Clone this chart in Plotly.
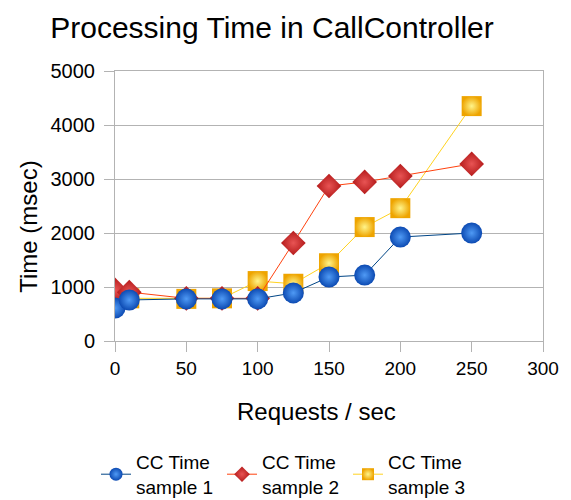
import plotly.graph_objects as go

# Request rates (requests / sec)
requests = [0, 10, 50, 75, 100, 125, 150, 175, 200, 250]

# Processing time in ms for each sample run
sample1 = [610, 760, 780, 780, 780, 890, 1185, 1220, 1925, 2000]
sample2 = [945, 905, 790, 790, 790, 1815, 2870, 2945, 3055, 3280]
sample3 = [790, 790, 780, 790, 1110, 1060, 1440, 2110, 2460, 4350]

series_names = ["CC Time<br>sample 1", "CC Time<br>sample 2", "CC Time<br>sample 3"]

FONT = "Liberation Sans, Arial, sans-serif"
GRID = "#b3b3b3"
W, H = 571, 500

# per-series style: (values, line colour, symbol, size, edge colour, highlight)
styles = [
    (sample1, "#004586", "circle", 21, "#0c4ab2", "#4f9af5"),
    (sample2, "#ff420e", "diamond", 19, "#b41a1a", "#e85454"),
    (sample3, "#ffd320", "square", 20, "#eea400", "#fff48a"),
]

fig = go.Figure()

# data traces, drawn back-to-front so sample 1 sits on top
for i in (2, 1, 0):
    vals, lc, sym, sz, mc, gc = styles[i]
    fig.add_trace(go.Scatter(
        x=requests, y=vals, name=series_names[i], mode="lines+markers",
        showlegend=False,
        line=dict(color=lc, width=1),
        marker=dict(symbol=sym, size=sz, color=mc,
                    gradient=dict(type="radial", color=gc),
                    line=dict(width=0)),
    ))

# legend entries with smaller symbols and thin lines
for i in (0, 1, 2):
    vals, lc, sym, sz, mc, gc = styles[i]
    fig.add_trace(go.Scatter(
        x=[None], y=[None], name=series_names[i], mode="lines+markers",
        line=dict(color=lc, width=1),
        marker=dict(symbol=sym, size=round(sz * 0.62), color=mc,
                    gradient=dict(type="radial", color=gc),
                    line=dict(width=0)),
    ))

fig.update_layout(
    width=W, height=H,
    margin=dict(l=115, r=19, t=71, b=159),
    paper_bgcolor="white", plot_bgcolor="white",
    font=dict(family=FONT, color="black", size=19),
    title=dict(text="Processing Time in CallController",
               font=dict(family=FONT, size=30, color="black"),
               x=272 / W, xref="container", xanchor="center",
               y=1 - 27 / H, yref="container", yanchor="middle"),
    showlegend=True,
    legend=dict(orientation="h", traceorder="normal",
                x=96 / W, xref="container", xanchor="left",
                y=1 - 443 / H, yref="container", yanchor="top",
                entrywidth=81, entrywidthmode="pixels",
                font=dict(family=FONT, size=19, color="black"),
                bgcolor="rgba(0,0,0,0)", itemsizing="trace"),
    annotations=[
        dict(text="Requests / sec", xref="paper", yref="paper",
             x=(321 - 115) / (552 - 115), y=-(411 - 341) / (341 - 71),
             xanchor="center", yanchor="middle", showarrow=False,
             font=dict(family=FONT, size=24, color="black")),
        dict(text="Time (msec)", xref="paper", yref="paper",
             x=-(115 - 27) / (552 - 115), y=(341 - 227) / (341 - 71),
             xanchor="center", yanchor="middle", textangle=-90, showarrow=False,
             font=dict(family=FONT, size=24, color="black")),
    ],
)

fig.update_xaxes(
    range=[0, 300], dtick=50, tick0=0,
    showgrid=False, zeroline=False,
    showline=True, linecolor=GRID, linewidth=1, mirror=True,
    ticks="outside", ticklen=10, tickcolor=GRID,
    tickfont=dict(family=FONT, size=19, color="black"),
)
fig.update_yaxes(
    range=[0, 5000], dtick=1000, tick0=0,
    showgrid=True, gridcolor=GRID, gridwidth=1, zeroline=False,
    showline=True, linecolor=GRID, linewidth=1, mirror=True,
    ticks="outside", ticklen=10, tickcolor=GRID,
    ticklabelstandoff=5,
    tickfont=dict(family=FONT, size=20, color="black"),
)

fig.write_html("out.html")
